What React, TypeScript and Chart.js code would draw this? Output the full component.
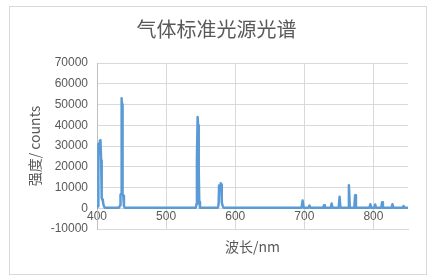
import React, { useEffect, useRef } from "react";
import { Chart, registerables } from "chart.js";

Chart.register(...registerables);

// Emission spectrum of the calibration lamp (Hg + Ar lines)
const wavelengths: number[] = [
  400, 401.5, 402, 403, 404, 405, 406, 406.8, 407.5, 408.5, 409.5, 411,
  432, 433.5, 434, 434.8, 435.3, 436, 436.5, 437, 438, 439, 440,
  543, 544, 544.6, 545.6, 546.3, 547.2, 548, 549,
  575, 576, 576.6, 577.3, 578, 579, 579.8, 580.5, 581.5, 583,
  696, 697.5, 699, 706.3, 707.5, 708.7, 727.3, 728.5, 729.7, 738.3, 739.5, 740.7,
  749.8, 751, 752.2, 763.2, 764.5, 765.8, 772.3, 773.5, 774.7,
  794.3, 795.5, 796.7, 801.3, 802.5, 803.7, 811.3, 812.5, 813.7,
  826.3, 827.5, 828.7, 842.3, 843.5, 844.7, 850,
];

const intensities: number[] = [
  300, 1000, 31000, 30000, 32500, 32800, 23000, 5000, 4200, 3500, 1500, 300,
  300, 1500, 6500, 7000, 53000, 52000, 50000, 7000, 6000, 1000, 300,
  300, 2000, 24000, 44000, 40000, 18000, 3000, 300,
  300, 2000, 11000, 10000, 9000, 12000, 11500, 3000, 1500, 300,
  300, 3700, 300, 300, 1300, 300, 300, 1450, 300, 300, 2250, 300,
  300, 5500, 300, 300, 11100, 300, 300, 6300, 300,
  300, 1900, 300, 300, 1800, 300, 300, 2900, 300,
  300, 1900, 300, 300, 1100, 300, 300,
];

const xTicks: number[] = [400, 500, 600, 700, 800];
const yMin = -10000;
const yMax = 70000;
const yStep = 10000;

const chartTitle = "气体标准光源光谱";
const xTitle = "波长/nm";
const yTitle = "强度/ counts";

const textColor = "#595959";
const gridColor = "#d9d9d9";
const lineColor = "#5b9bd5";
const tickFont = { family: "'Liberation Sans', Arial, sans-serif", size: 12 };
const cjkFont = "'Noto Sans CJK SC', sans-serif";

export default function App() {
  const canvasRef = useRef<HTMLCanvasElement | null>(null);

  useEffect(() => {
    const canvas = canvasRef.current;
    if (!canvas) return;
    const points = wavelengths.map((x, i) => ({ x, y: intensities[i] }));

    const chart = new Chart(canvas, {
      type: "line",
      data: {
        datasets: [
          {
            data: points,
            borderColor: lineColor,
            borderWidth: 2.5,
            borderJoinStyle: "round",
            borderCapStyle: "round",
            pointRadius: 0,
            tension: 0,
            fill: false,
          },
        ],
      },
      options: {
        animation: false,
        responsive: false,
        layout: { padding: { left: 25, right: 25, top: 0, bottom: 10 } },
        plugins: {
          legend: { display: false },
          tooltip: { enabled: false },
          title: {
            display: true,
            text: chartTitle,
            color: textColor,
            font: { family: cjkFont, size: 20, weight: "normal", lineHeight: 1.2 },
            padding: { top: 17.5, bottom: 21.5 },
          },
        },
        scales: {
          x: {
            type: "linear",
            min: 400,
            max: 850,
            afterBuildTicks: (scale: any) => {
              scale.ticks = xTicks.map((v) => ({ value: v }));
            },
            afterFit: (scale: any) => {
              scale.height = 41;
            },
            grid: { color: gridColor, lineWidth: 1, drawTicks: false },
            border: { color: gridColor, width: 1 },
            ticks: {
              color: textColor,
              mirror: true,
              padding: 4.7,
              maxRotation: 0,
              font: tickFont,
            },
            title: {
              display: true,
              text: xTitle,
              color: textColor,
              font: { family: cjkFont, size: 14, lineHeight: 1.2 },
              padding: { top: 0, bottom: 15.1 },
            },
          },
          y: {
            type: "linear",
            min: yMin,
            max: yMax,
            afterFit: (scale: any) => {
              scale.width = 72;
            },
            grid: { color: gridColor, lineWidth: 1, drawTicks: false },
            border: { color: "#bfbfbf", width: 1 },
            ticks: {
              stepSize: yStep,
              color: textColor,
              padding: 9,
              font: tickFont,
              callback: (v: any) => String(v),
            },
            title: {
              display: true,
              text: yTitle,
              color: textColor,
              font: { family: cjkFont, size: 14, lineHeight: 1.2 },
              padding: { top: 1.6, bottom: 0 },
            },
          },
        },
      },
    });

    return () => chart.destroy();
  }, []);

  return (
    <div
      style={{
        position: "absolute",
        left: 0,
        top: 0,
        width: 433,
        height: 280,
        background: "#ffffff",
      }}
    >
      <div
        style={{
          position: "absolute",
          left: 9,
          top: 6,
          width: 416,
          height: 267,
          border: "1px solid #d9d9d9",
          boxSizing: "content-box",
        }}
      />
      <canvas
        ref={canvasRef}
        width={433}
        height={280}
        style={{ position: "absolute", left: 0, top: 0, width: 433, height: 280 }}
      />
    </div>
  );
}
